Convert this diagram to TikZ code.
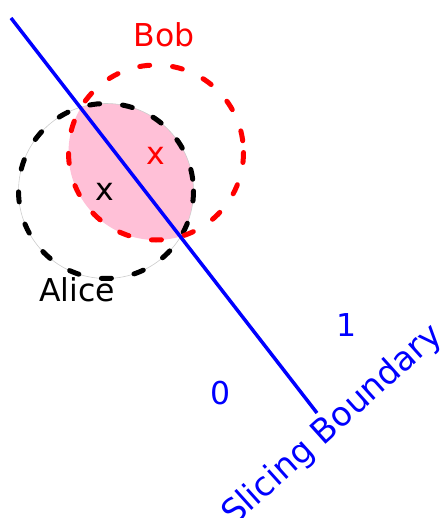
\documentclass[tikz,border=0pt]{standalone}
\usepackage{fontspec}
\setmainfont{DejaVu Sans}
\definecolor{lenspink}{RGB}{255,192,215}
\begin{document}
\begin{tikzpicture}[x=1pt,y=-1pt,
  lbl/.style={inner sep=0pt,font=\fontsize{31.5}{36}\selectfont},
  ring/.style={line width=5pt,dash pattern=on 10pt off 23pt,line cap=round}]
\useasboundingbox (0,0) rectangle (441,518);
\coordinate (ca) at (106,191);
\coordinate (cb) at (156,152.5);
\begin{scope}
  \clip (ca) circle[radius=87.5];
  \fill[lenspink] (cb) circle[radius=87.5];
\end{scope}
\draw[gray!40,line width=0.6pt] (ca) circle[radius=87.5];
\draw[ring,black] (ca) circle[radius=87.5];
\draw[ring,red] (cb) circle[radius=87.5];
\node[lbl,black] (xa) at (105,192) {x};
\node[lbl,red] (xb) at (156,156) {x};
\coordinate (l1) at (11,18);
\coordinate (l2) at (317,413);
\draw[blue,line width=3.5pt] (l1) -- (l2);
\node[lbl,red] (bob) at (164,35) {Bob};
\node[lbl,black] (alice) at (77,290) {Alice};
\node[lbl,blue] (zero) at (221,393) {0};
\node[lbl,blue] (one) at (347,325) {1};
\node[inner sep=0pt,font=\fontsize{33.5}{38}\selectfont,blue,anchor=base west,rotate=42] (sb) at (234,527) {Slicing Boundary};
\end{tikzpicture}
\end{document}
